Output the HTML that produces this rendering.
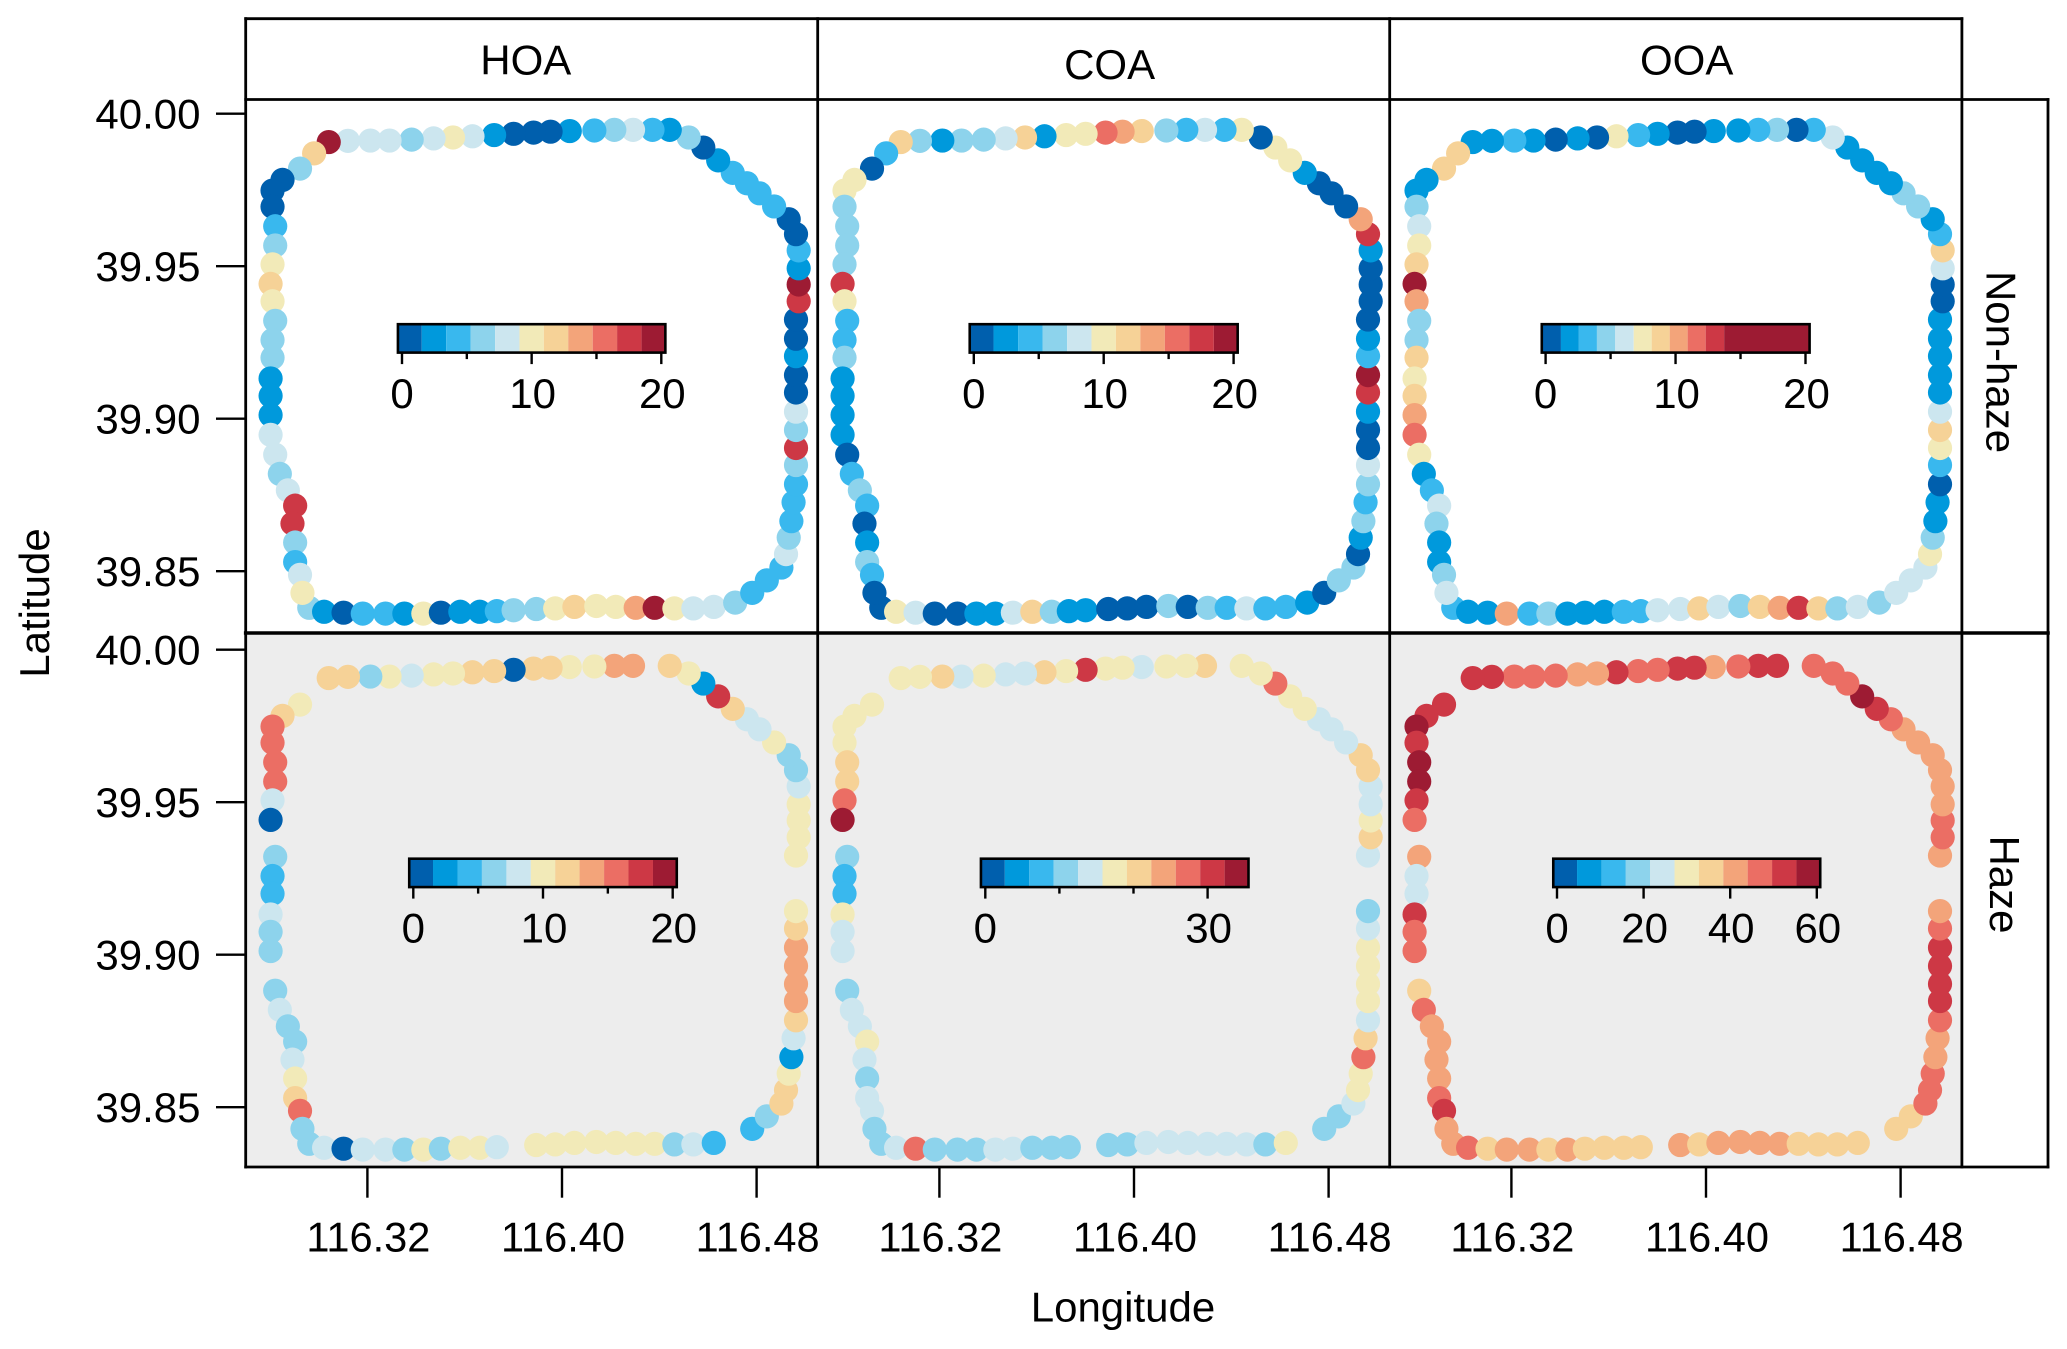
<!DOCTYPE html>
<html lang="en">
<head>
<meta charset="utf-8">
<title>Spatial distribution of HOA, COA and OOA</title>
<style>
html,body{margin:0;padding:0;background:#fff;}
svg{display:block;}
text{font-family:"Liberation Sans",Arial,sans-serif;fill:#000;}
</style>
</head>
<body>
<svg id="chart" xmlns="http://www.w3.org/2000/svg" width="2067" height="1349" viewBox="0 0 2067 1349"></svg>
<script>
const columnNames = ['HOA', 'COA', 'OOA'];
const rowNames = ['Non-haze', 'Haze'];
const lonTicks = [116.32, 116.40, 116.48];
const latTicks = [40.00, 39.95, 39.90, 39.85];
const classColors = ['#005FAD','#0099DC','#39B8EE','#8DD3EC','#CCE6EF','#F2EAB8','#F6D297','#F3A47A','#EB6E64','#CD3845','#9D1B33'];

const routeLon = [
116.2961,116.3022,116.3102,116.3181,116.3274,116.3352,116.3430,116.3502,116.3582,116.3662,
116.3732,116.3801,116.3894,116.3972,116.4051,116.4141,116.4221,116.4303,116.4381,116.4462,
116.4540,116.4624,116.4712,116.4782,116.4842,116.4902,116.4921,116.4932,116.4943,116.4952,
116.4962,116.4962,116.4962,116.4962,116.4962,116.4962,116.4962,116.4962,116.4962,116.4962,
116.4973,116.4973,116.4973,116.4973,116.4962,116.4932,116.4872,116.4812,116.4760,116.4702,
116.4642,116.4581,116.4521,116.4443,116.4372,116.4292,116.4215,116.4133,116.4032,116.3953,
116.3883,116.3801,116.3721,116.3632,116.3552,116.3472,116.3382,116.3291,116.3212,116.3120,
116.3041,116.2981,116.2923,116.2851,116.2810,116.2810,116.2821,116.2821,116.2810,116.2802,
116.2810,116.2821,116.2810,116.2810,116.2802,116.2802,116.2802,116.2802,116.2821,116.2840,
116.2873,116.2903,116.2892,116.2903,116.2903,116.2923,116.2933];

const routeLat = [
39.8380,39.8367,39.8364,39.8361,39.8361,39.8361,39.8361,39.8364,39.8367,39.8367,
39.8369,39.8372,39.8376,39.8378,39.8383,39.8386,39.8383,39.8380,39.8380,39.8378,
39.8378,39.8383,39.8397,39.8429,39.8470,39.8512,39.8556,39.8610,39.8664,39.8726,
39.8785,39.8848,39.8904,39.8963,39.9023,39.9086,39.9143,39.9205,39.9262,39.9325,
39.9385,39.9440,39.9493,39.9552,39.9605,39.9654,39.9696,39.9739,39.9772,39.9806,
39.9847,39.9889,39.9922,39.9947,39.9947,39.9947,39.9947,39.9945,39.9943,39.9941,
39.9938,39.9934,39.9930,39.9926,39.9922,39.9919,39.9915,39.9912,39.9912,39.9911,
39.9907,39.9870,39.9820,39.9783,39.9748,39.9695,39.9631,39.9568,39.9506,39.9442,
39.9385,39.9321,39.9258,39.9200,39.9132,39.9075,39.9012,39.8947,39.8882,39.8819,
39.8765,39.8715,39.8656,39.8594,39.8530,39.8488,39.8429];

const hoaNonHaze = [
6.2,2.5,.6,4.4,4.4,2.5,10,.6,2.5,2.5,
4.4,6.2,6.2,10,11.9,10,10,13.8,19.4,10,
8.1,8.1,6.2,4.4,4.4,4.4,8.1,6.2,4.4,4.4,
4.4,6.2,17.5,6.2,8.1,.6,.6,2.5,.6,.6,
17.5,19.4,2.5,4.4,.6,.6,4.4,4.4,4.4,4.4,
2.5,.6,6.2,2.5,4.4,8.1,6.2,4.4,2.5,.6,
.6,.6,2.5,8.1,10,8.1,6.2,8.1,8.1,8.1,
19.4,11.9,6.2,.6,.6,.6,4.4,6.2,10,11.9,
10,6.2,6.2,6.2,2.5,2.5,2.5,8.1,8.1,6.2,
8.1,17.5,17.5,6.2,4.4,8.1,10];

const coaNonHaze = [
.6,10,8.1,.6,.6,2.5,2.5,8.1,11.9,6.2,
2.5,2.5,.6,.6,.6,6.2,.6,6.2,4.4,8.1,
4.4,4.4,2.5,.6,6.2,6.2,.6,2.5,6.2,4.4,
6.2,8.1,.6,.6,2.5,17.5,19.4,4.4,2.5,.6,
.6,.6,.6,2.5,17.5,13.8,.6,.6,.6,2.5,
10,10,.6,10,4.4,8.1,4.4,6.2,11.9,13.8,
15.7,10,10,2.5,11.9,8.1,6.2,6.2,2.5,6.2,
11.9,4.4,.6,10,10,6.2,6.2,6.2,6.2,17.5,
10,4.4,4.4,6.2,2.5,2.5,2.5,2.5,.6,4.4,
6.2,4.4,.6,2.5,6.2,4.4,.6];

const ooaNonHaze = [
3.3,1.9,1.9,10.2,3.3,4.7,1.9,1.9,1.9,3.3,
3.3,6.1,6.1,8.9,6.1,4.7,8.9,10.2,13,8.9,
4.7,6.1,4.7,6.1,6.1,6.1,7.5,4.7,1.9,1.9,
.4,3.3,7.5,8.9,6.1,1.9,1.9,1.9,1.9,1.9,
.4,.4,6.1,8.9,3.3,1.9,4.7,4.7,1.9,1.9,
1.9,1.9,6.1,3.3,.4,4.7,3.3,1.9,1.9,.4,
.4,1.9,3.3,7.5,.4,1.9,.4,1.9,3.3,1.9,
1.9,8.9,8.9,1.9,1.9,4.7,6.1,7.5,8.9,17,
10.2,4.7,4.7,8.9,7.5,8.9,10.2,11.6,7.5,1.9,
3.3,6.1,4.7,1.9,1.9,4.7,6.1];

const hoaHaze = [
6.2,8.1,.6,8.1,8.1,6.2,10,6.2,10,10,
8.1,null,10,10,10,10,10,10,10,6.2,
8.1,4.4,null,4.4,6.2,11.9,11.9,10,2.5,8.1,
11.9,13.8,13.8,13.8,13.8,11.9,10,null,null,10,
10,10,10,8.1,6.2,6.2,10,8.1,8.1,11.9,
17.5,2.5,10,11.9,null,13.8,13.8,10,10,11.9,
11.9,.6,11.9,11.9,10,10,8.1,10,6.2,11.9,
11.9,null,10,11.9,15.7,15.7,15.7,15.7,8.1,.6,
null,6.2,4.4,4.4,8.1,6.2,6.2,null,6.2,8.1,
6.2,6.2,8.1,10,11.9,15.7,6.2];

const coaHaze = [
10.9,14.2,27.4,10.9,10.9,10.9,14.2,14.2,10.9,10.9,
10.9,null,10.9,10.9,14.2,14.2,14.2,14.2,14.2,14.2,
10.9,17.5,null,10.9,10.9,14.2,17.5,17.5,27.4,20.8,
14.2,17.5,17.5,17.5,17.5,14.2,10.9,null,null,14.2,
20.8,17.5,14.2,14.2,20.8,20.8,14.2,14.2,14.2,17.5,
17.5,27.4,17.5,17.5,null,20.8,17.5,17.5,14.2,17.5,
17.5,30.7,17.5,20.8,14.2,14.2,17.5,14.2,20.8,17.5,
17.5,null,17.5,17.5,17.5,17.5,20.8,20.8,27.4,34,
null,10.9,7.6,7.6,17.5,14.2,14.2,null,10.9,14.2,
14.2,17.5,14.2,10.9,14.2,14.2,10.9];

const ooaHaze = [
41.2,46.9,35.6,41.2,41.2,35.6,41.2,35.6,35.6,35.6,
35.6,null,41.2,35.6,41.2,41.2,41.2,41.2,35.6,35.6,
35.6,35.6,null,35.6,35.6,46.9,46.9,46.9,41.2,41.2,
46.9,52.5,52.5,52.5,52.5,46.9,41.2,null,null,41.2,
46.9,46.9,41.2,41.2,41.2,41.2,41.2,41.2,46.9,52.5,
58.1,46.9,46.9,46.9,null,52.5,52.5,46.9,41.2,52.5,
52.5,46.9,46.9,52.5,41.2,41.2,46.9,46.9,46.9,52.5,
52.5,null,52.5,52.5,58.1,52.5,58.1,58.1,52.5,46.9,
null,41.2,24.3,24.3,52.5,46.9,46.9,null,35.6,46.9,
41.2,41.2,41.2,41.2,46.9,52.5,41.2];

const breaksStandard = [-0.36,1.52,3.41,5.29,7.18,9.06,10.94,12.82,14.71,16.59,18.48,20.36];
const breaksOoaNonHaze = [-0.34,1.18,2.56,3.95,5.36,6.78,8.16,9.55,10.93,12.32,13.74,20.36];
const breaksCoaHaze = [-0.67,2.63,5.93,9.22,12.52,15.82,19.11,22.41,25.71,29.0,32.3,35.6];
const breaksOoaHaze = [-1,4.63,10.26,15.89,21.52,27.15,32.78,38.41,44.04,49.67,55.3,60.93];

const ticksStandard = [0,5,10,15,20];
const labelsStandard = ['0','','10','','20'];
const ticksCoaHaze = [0,10,20,30];
const labelsCoaHaze = ['0','','','30'];
const ticksOoaHaze = [0,20,40,60];
const labelsOoaHaze = ['0','20','40','60'];

const panelValues = [[hoaNonHaze,coaNonHaze,ooaNonHaze],[hoaHaze,coaHaze,ooaHaze]];
const panelBreaks = [[breaksStandard,breaksStandard,breaksOoaNonHaze],[breaksStandard,breaksCoaHaze,breaksOoaHaze]];
const panelTicks = [[ticksStandard,ticksStandard,ticksStandard],[ticksStandard,ticksCoaHaze,ticksOoaHaze]];
const panelTickLabels = [[labelsStandard,labelsStandard,labelsStandard],[labelsStandard,labelsCoaHaze,labelsOoaHaze]];

/* layout */
const svg = document.getElementById('chart');
const NS = 'http://www.w3.org/2000/svg';
const colLeft = [245.7, 817.7, 1389.7];
const panelW = 572;
const colShift = [0, 572, 1144];
const rowTop = [99.5, 633];
const rowH = [533.5, 534];
const rowShift = [0, 536];
const FS = 42;
const INK = '#000';

function xScale(lon, col){ return 367.4 + colShift[col] + (lon - 116.32) * 2432.5; }
function yScale(lat, row){ return 113.7 + rowShift[row] + (40 - lat) * 3050; }

const barLayout = [
  [{zero:402, unit:12.965, top:324.2},{zero:973.8, unit:12.99, top:324.2},{zero:1545.6, unit:12.995, top:324.2}],
  [{zero:413.3, unit:12.97, top:858.7},{zero:985.3, unit:7.41, top:858.7},{zero:1557, unit:4.33, top:858.7}]
];
const barH = 28.4;

function mk(tag, attrs, parent){
  const e = document.createElementNS(NS, tag);
  for (const k in attrs) e.setAttribute(k, attrs[k]);
  (parent || svg).appendChild(e);
  return e;
}
function label(str, x, y, anchor, parent, size){
  const t = mk('text', {x:x, y:y, 'text-anchor':anchor, 'font-size':size || FS}, parent);
  t.textContent = str;
  return t;
}
function classOf(v, breaks){
  for (let i = 0; i < breaks.length - 1; i++) { if (v < breaks[i + 1]) return i; }
  return breaks.length - 2;
}

/* panel backgrounds */
rowNames.forEach(function(rowName, r){
  columnNames.forEach(function(colName, c){
    const bg = mk('rect', {x:colLeft[c], y:rowTop[r], width:panelW, height:rowH[r], fill: r === 1 ? '#EDEDED' : '#FFFFFF'});
    
    
  });
});

/* route points */
rowNames.forEach(function(rowName, r){
  columnNames.forEach(function(colName, c){
    const group = mk('g', {});
    
    
    const values = panelValues[r][c];
    const breaks = panelBreaks[r][c];
    values.forEach(function(v, i){
      if (v === null) return;
      const dot = mk('circle', {cx:xScale(routeLon[i], c).toFixed(2), cy:yScale(routeLat[i], r).toFixed(2), r:12.1, fill:classColors[classOf(v, breaks)]}, group);
      
      
    });
  });
});

/* colorbars */
rowNames.forEach(function(rowName, r){
  columnNames.forEach(function(colName, c){
    const lay = barLayout[r][c];
    const breaks = panelBreaks[r][c];
    const bx = function(v){ return lay.zero + v * lay.unit; };
    const group = mk('g', {});
    
    
    for (let i = 0; i < breaks.length - 1; i++) {
      const seg = mk('rect', {x:bx(breaks[i]).toFixed(2), y:lay.top, width:(bx(breaks[i + 1]) - bx(breaks[i])).toFixed(2), height:barH, fill:classColors[i]}, group);
      
      
    }
    const frame = mk('rect', {x:(bx(breaks[0]) + 0.6).toFixed(2), y:lay.top, width:(bx(breaks[breaks.length - 1]) - bx(breaks[0]) - 1.2).toFixed(2), height:barH, fill:'none', stroke:INK, 'stroke-width':2.6}, group);
    
    
    const ticks = panelTicks[r][c];
    const tickLabels = panelTickLabels[r][c];
    ticks.forEach(function(tv, i){
      const major = tickLabels[i] !== '';
      const y0 = lay.top + barH;
      const tick = mk('line', {x1:bx(tv), x2:bx(tv), y1:y0, y2:y0 + (major ? 11.5 : 6.5), stroke:INK, 'stroke-width':2.4}, group);
      
      
      if (major) {
        const t = label(tickLabels[i], bx(tv) + (tickLabels[i] === '0' ? 0 : 1), y0 + 55.5, 'middle', group, 42);
        
        
      }
    });
  });
});

/* frame lines */
const frameLines = [
  [245.7,18.7,1961.9,18.7],[245.7,99.5,2048,99.5],[245.7,633,2048,633],[245.7,1167,2048,1167],
  [245.7,18.7,245.7,1167],[817.7,18.7,817.7,1167],[1389.7,18.7,1389.7,1167],[1961.9,18.7,1961.9,1167],[2048,99.5,2048,1167]
];
frameLines.forEach(function(p){
  const ln = mk('line', {x1:p[0], y1:p[1], x2:p[2], y2:p[3], stroke:INK, 'stroke-width':p[1] === 633 && p[3] === 633 ? 3.6 : 2.8, 'stroke-linecap':'square'});
  
  
});

/* column strip labels */
const stripX = [525.8, 1109.6, 1686.7];
const stripY = [74.6, 78.8, 74.6];
columnNames.forEach(function(name, c){
  const t = label(name, stripX[c], stripY[c], 'middle');
  
  
});

/* row strip labels */
const rowStripBase = [1986.4, 1990];
const rowStripMid = [362, 884.5];
rowNames.forEach(function(name, r){
  const t = label(name, 0, 0, 'middle');
  t.setAttribute('transform', 'translate(' + rowStripBase[r] + ',' + rowStripMid[r] + ') rotate(90)');
  
  
});

/* axes */
columnNames.forEach(function(name, c){
  lonTicks.forEach(function(lon){
    const x = xScale(lon, c);
    const tick = mk('line', {x1:x, x2:x, y1:1167, y2:1197.7, stroke:INK, 'stroke-width':2.4});
    
    
    const t = label(lon.toFixed(2), x + 1, 1251.7, 'middle');
    t.setAttribute('textLength', '124');
    t.setAttribute('lengthAdjust', 'spacingAndGlyphs');
    
    
  });
});
rowNames.forEach(function(name, r){
  latTicks.forEach(function(lat){
    const y = yScale(lat, r);
    const tick = mk('line', {x1:216, x2:245.7, y1:y, y2:y, stroke:INK, 'stroke-width':2.4});
    
    
    const t = label(lat.toFixed(2), 200.5, y + 14.6, 'end');
    
    
  });
});

/* axis titles */
const xTitle = label('Longitude', 1123, 1321.7, 'middle');


const yTitle = label('Latitude', 0, 0, 'middle');
yTitle.setAttribute('transform', 'translate(49,603) rotate(-90)');


</script>
</body>
</html>
